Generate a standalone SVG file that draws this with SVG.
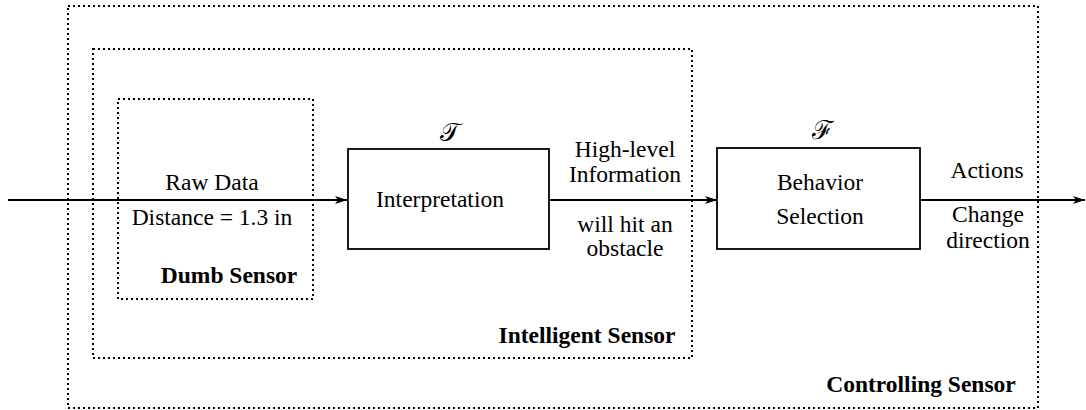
<svg xmlns="http://www.w3.org/2000/svg" width="1086" height="410" viewBox="0 0 1086 410">
<style>
.t{font-family:"Liberation Serif","Times New Roman",serif;font-size:23.5px;fill:#000;text-anchor:middle}
.b{font-weight:bold}
.s{font-family:"DejaVu Serif","Liberation Serif",serif;font-size:26px;fill:#000;text-anchor:middle}
.dot{fill:none;stroke:#000;stroke-width:2;stroke-dasharray:2 3}
.box{fill:#fff;stroke:#000;stroke-width:1.8}
.ln{fill:none;stroke:#000;stroke-width:1.8}
</style>
<defs>
<marker id="ah" viewBox="0 0 12 8" refX="12" refY="4" markerWidth="12" markerHeight="8" markerUnits="userSpaceOnUse" orient="auto">
<path d="M0,0 L12,4 L0,8 L3,4 Z" fill="#000"/>
</marker>
</defs>
<rect width="1086" height="410" fill="#fff"/>
<g id="controlling-sensor">
<rect class="dot" x="68" y="6" width="970" height="402"/>
<text class="t b" x="921" y="392">Controlling Sensor</text>
</g>
<g id="intelligent-sensor">
<rect class="dot" x="93" y="49" width="599" height="309"/>
<text class="t b" x="587" y="343">Intelligent Sensor</text>
</g>
<g id="dumb-sensor">
<rect class="dot" x="118" y="99" width="195" height="200"/>
<text class="t b" x="229" y="283">Dumb Sensor</text>
</g>
<g id="connectors">
<line class="ln" x1="8" y1="200" x2="347" y2="200" marker-end="url(#ah)"/>
<line class="ln" x1="549" y1="200" x2="717" y2="200" marker-end="url(#ah)"/>
<line class="ln" x1="920" y1="200" x2="1085" y2="200" marker-end="url(#ah)"/>
<text class="t" x="212" y="190">Raw Data</text>
<text class="t" x="212" y="225">Distance = 1.3 in</text>
<text class="t" x="625" y="157">High-level</text>
<text class="t" x="625" y="182">Information</text>
<text class="t" x="625" y="232">will hit an</text>
<text class="t" x="625" y="256">obstacle</text>
<text class="t" x="987" y="178">Actions</text>
<text class="t" x="988" y="222">Change</text>
<text class="t" x="988" y="248">direction</text>
</g>
<g id="interpretation">
<rect class="box" x="348" y="149" width="201" height="100"/>
<text class="t" x="440" y="207">Interpretation</text>
<text class="s" x="450" y="141">𝒯</text>
</g>
<g id="behavior-selection">
<rect class="box" x="717" y="148" width="203" height="101"/>
<text class="t" x="820" y="190">Behavior</text>
<text class="t" x="820" y="224">Selection</text>
<text class="s" x="822" y="139">ℱ</text>
</g>
</svg>
